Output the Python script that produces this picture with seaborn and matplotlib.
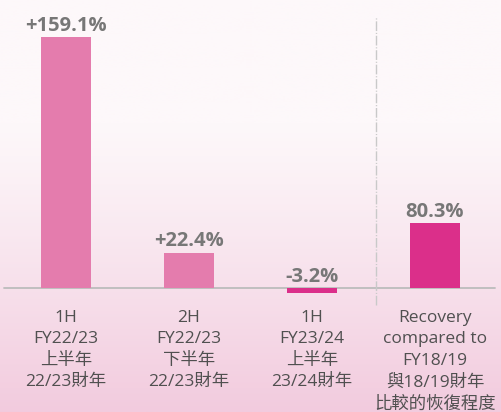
import numpy as np
import pandas as pd
import matplotlib
matplotlib.use("Agg")
import matplotlib.pyplot as plt
import seaborn as sns

# ---- data ----
categories = ["1H\nFY22/23\n上半年\n22/23財年",
              "2H\nFY22/23\n下半年\n22/23財年",
              "1H\nFY23/24\n上半年\n23/24財年",
              "Recovery\ncompared to\nFY18/19\n與18/19財年\n比較的恢復程度"]
growth_values = [159.1, 22.4, -3.2]
recovery_value = [80.3]
value_labels = ["+159.1%", "+22.4%", "-3.2%", "80.3%"]
bar_colors = ["#e47cad", "#e47cad", "#db2f8a", "#db2f8a"]

sns.set_theme(style="white")
plt.rcParams['font.family'] = ['Open Sans', 'Noto Sans CJK TC', 'DejaVu Sans']

W, H = 501, 412
fig = plt.figure(figsize=(W / 100, H / 100), dpi=100)

# background gradient
bg = fig.add_axes([0, 0, 1, 1], zorder=0)
n = 400
t = np.linspace(0, 1, n)
top = np.array([0xfd, 0xf8, 0xfa]) / 255
bot = np.array([0xf2, 0xcb, 0xde]) / 255
f = np.clip((t - 0.3) / 0.7, 0, 1) ** 1.1
grad = top[None, :] * (1 - f[:, None]) + bot[None, :] * f[:, None]
bg.imshow(grad[:, None, :], aspect='auto', extent=[0, 1, 0, 1])
bg.set_axis_off()

ax = fig.add_axes([0, 0, 1, 1], zorder=1)
ax.patch.set_alpha(0)

# pixel layout
x0_px, step_px = 66, 123
base_px = 288
scale_main = (288 - 37) / 159.1
scale_rec = (288 - 223) / 80.3

df_main = pd.DataFrame({"cat": categories[:3], "val": growth_values})
sns.barplot(data=df_main, x="cat", y="val", order=categories, hue="cat",
            hue_order=categories, palette=dict(zip(categories, bar_colors)),
            width=50 / step_px, legend=False, ax=ax, saturation=1, linewidth=0)

ax2 = ax.twinx()
ax2.patch.set_visible(False)
df_rec = pd.DataFrame({"cat": categories[3:], "val": recovery_value})
sns.barplot(data=df_rec, x="cat", y="val", order=categories, hue="cat",
            hue_order=categories, palette=dict(zip(categories, bar_colors)),
            width=50 / step_px, legend=False, ax=ax2, saturation=1, linewidth=0)

xl = (-x0_px / step_px, (W - x0_px) / step_px)
for a, s in ((ax, scale_main), (ax2, scale_rec)):
    a.set_xlim(*xl)
    a.set_ylim(-(H - base_px) / s, base_px / s)
    a.set_axis_off()

# baseline
ax.axhline(0, xmin=4 / W, xmax=495 / W, color="#bcbcbc", lw=1.3, zorder=0.5)
# separator
ax.axvline(2.52, ymin=(H - 305) / H, ymax=(H - 17) / H, color="#c9c9c9",
           lw=1.0, dashes=(7, 1.3, 0.8, 1.3))

# value labels
tops = [(ax, v) for v in growth_values] + [(ax2, v) for v in recovery_value]
for i, ((a, v), lab) in enumerate(zip(tops, value_labels)):
    a.annotate(lab, xy=(i, max(v, 0)), xytext=(0, 4.5), textcoords="offset points",
               ha="center", va="baseline", fontsize=14.5, fontweight="bold",
               color="#777777")

# category labels
for i, lab in enumerate(categories):
    ax.annotate(lab, xy=(i, 0), xytext=(0, -15.5), textcoords="offset points",
                ha="center", va="top", fontsize=12.5, color="#505050",
                fontweight="normal", linespacing=1.46, annotation_clip=False)

fig.savefig("out.png", dpi=100)
